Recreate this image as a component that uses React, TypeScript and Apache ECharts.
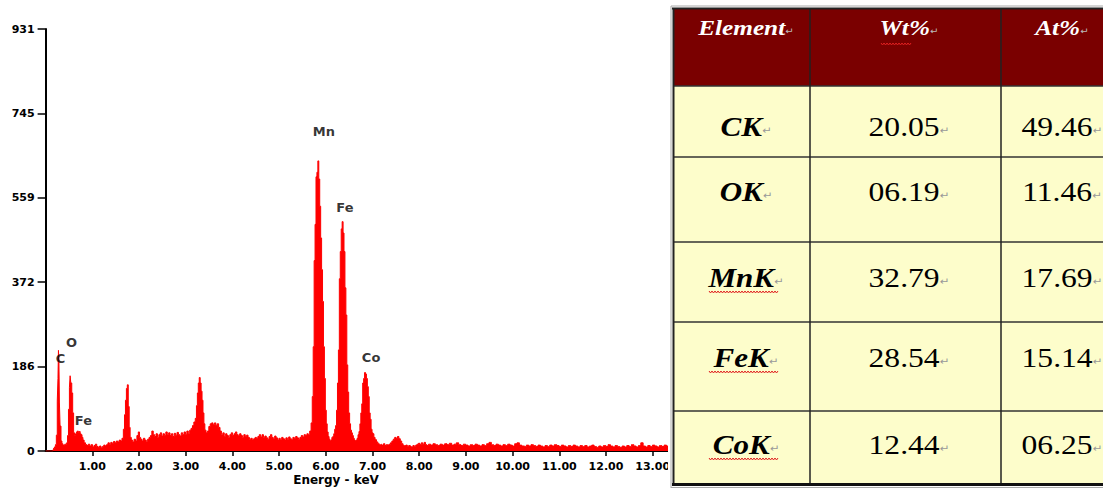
import React, { useEffect, useRef } from 'react';
import * as echarts from 'echarts';

// ---- spectrum data: [energy keV, counts] ----
const lightElementSpectrum: [number, number][] = [
  [0, 0], [0.16, 0], [0.18, 6], [0.2, 9], [0.22, 14], [0.24, 35], [0.26, 110], [0.27, 160], [0.28, 222], [0.29, 200],
  [0.3, 108], [0.32, 55], [0.34, 22], [0.36, 16], [0.38, 13], [0.4, 12], [0.42, 15], [0.44, 14], [0.46, 18], [0.48, 34],
  [0.5, 92], [0.52, 140], [0.53, 166], [0.55, 150], [0.57, 128], [0.59, 84], [0.61, 40], [0.63, 34], [0.65, 38], [0.67, 42],
  [0.69, 44], [0.71, 41], [0.73, 43], [0.75, 38], [0.77, 36], [0.79, 30], [0.81, 24], [0.84, 18], [0.87, 14], [0.9, 12],
  [0.93, 15], [0.96, 11], [0.99, 14], [1.02, 9], [1.05, 12], [1.08, 15], [1.11, 10], [1.14, 8], [1.17, 11], [1.2, 7],
  [1.23, 10], [1.26, 13], [1.29, 11], [1.32, 14], [1.35, 18], [1.38, 15], [1.41, 19], [1.44, 17], [1.47, 21], [1.5, 18],
  [1.53, 22], [1.56, 20], [1.59, 24], [1.62, 22], [1.65, 28], [1.68, 48], [1.7, 80], [1.72, 112], [1.74, 138], [1.76, 146],
  [1.78, 98], [1.8, 52], [1.82, 30], [1.85, 24], [1.88, 20], [1.91, 26], [1.94, 22], [1.97, 34], [2.0, 42], [2.02, 30],
];

const midEnergySpectrum: [number, number][] = [
  [2.05, 26], [2.08, 22], [2.11, 28], [2.14, 24], [2.17, 20], [2.2, 26], [2.23, 30], [2.26, 34], [2.29, 44], [2.32, 36],
  [2.35, 32], [2.38, 38], [2.41, 30], [2.44, 36], [2.47, 40], [2.5, 33], [2.53, 38], [2.56, 34], [2.59, 42], [2.62, 36],
  [2.65, 40], [2.68, 34], [2.71, 38], [2.74, 32], [2.77, 39], [2.8, 35], [2.83, 41], [2.86, 36], [2.89, 33], [2.92, 40],
  [2.95, 36], [2.98, 42], [3.01, 37], [3.04, 44], [3.07, 38], [3.1, 46], [3.13, 50], [3.16, 56], [3.19, 64], [3.22, 72],
  [3.24, 100], [3.26, 128], [3.28, 150], [3.3, 162], [3.32, 150], [3.34, 132], [3.36, 112], [3.38, 84], [3.4, 60], [3.42, 46],
  [3.45, 40], [3.48, 44], [3.51, 54], [3.54, 60], [3.57, 62], [3.6, 58], [3.63, 62], [3.66, 57], [3.69, 60], [3.72, 52],
  [3.75, 44], [3.78, 36], [3.81, 40], [3.84, 32], [3.87, 38], [3.9, 34], [3.93, 30], [3.96, 36], [3.99, 40], [4.02, 34],
  [4.05, 38], [4.08, 42], [4.11, 36], [4.14, 33], [4.17, 38], [4.2, 34], [4.23, 30], [4.26, 36], [4.29, 32], [4.32, 35],
  [4.35, 30], [4.38, 26], [4.41, 28], [4.44, 24], [4.47, 27], [4.5, 30], [4.53, 28], [4.56, 32], [4.59, 36], [4.62, 31],
  [4.65, 36], [4.68, 30], [4.71, 33], [4.74, 29], [4.77, 26], [4.8, 32], [4.83, 36], [4.86, 30], [4.89, 27], [4.92, 33],
  [4.95, 29], [4.98, 24], [5.01, 28], [5.04, 25], [5.07, 30], [5.1, 27], [5.13, 24], [5.16, 29], [5.19, 26], [5.22, 31],
  [5.25, 27], [5.28, 25], [5.31, 30], [5.34, 28], [5.37, 32], [5.4, 29], [5.43, 26], [5.46, 30], [5.49, 34], [5.52, 31],
  [5.55, 36], [5.58, 34],
];

const kLineSpectrum: [number, number][] = [
  [5.61, 38], [5.64, 36], [5.67, 44], [5.7, 62], [5.72, 120], [5.74, 230], [5.76, 420], [5.78, 500], [5.8, 605], [5.82, 615],
  [5.84, 640], [5.86, 600], [5.88, 540], [5.9, 470], [5.92, 400], [5.94, 330], [5.96, 230], [5.98, 160], [6.0, 90], [6.02, 60],
  [6.04, 42], [6.06, 32], [6.08, 26], [6.1, 22], [6.12, 24], [6.14, 30], [6.16, 32], [6.18, 38], [6.2, 48], [6.22, 56],
  [6.24, 90], [6.26, 150], [6.28, 223], [6.3, 380], [6.32, 440], [6.34, 490], [6.36, 506], [6.38, 481], [6.4, 440], [6.42, 360],
  [6.44, 300], [6.46, 190], [6.48, 130], [6.5, 84], [6.52, 60], [6.54, 46], [6.56, 40], [6.58, 34], [6.6, 28], [6.62, 24],
  [6.64, 22], [6.66, 24], [6.68, 28], [6.7, 36], [6.72, 43], [6.74, 60], [6.76, 84], [6.78, 104], [6.8, 150], [6.82, 160],
  [6.84, 173], [6.86, 170], [6.88, 160], [6.9, 142], [6.92, 120], [6.94, 84], [6.96, 70], [6.98, 48], [7.0, 40], [7.02, 38],
  [7.04, 30], [7.07, 25], [7.1, 20],
];

const highEnergySpectrum: [number, number][] = [
  [7.13, 16], [7.16, 14], [7.19, 15], [7.22, 13], [7.25, 16], [7.28, 12], [7.31, 14], [7.34, 13], [7.37, 15], [7.4, 18],
  [7.43, 22], [7.46, 26], [7.49, 30], [7.52, 28], [7.55, 32], [7.58, 27], [7.61, 22], [7.64, 16], [7.67, 12], [7.7, 11],
  [7.73, 13], [7.76, 10], [7.79, 12], [7.82, 11], [7.85, 9], [7.88, 12], [7.91, 10], [7.94, 13], [7.97, 15], [8.0, 17],
  [8.03, 14], [8.06, 18], [8.09, 15], [8.12, 19], [8.15, 14], [8.18, 12], [8.22, 15], [8.27, 13], [8.32, 16], [8.37, 14],
  [8.42, 12], [8.47, 15], [8.52, 13], [8.57, 16], [8.62, 14], [8.67, 17], [8.72, 13], [8.77, 15], [8.82, 18], [8.87, 14],
  [8.92, 12], [8.97, 15], [9.02, 13], [9.07, 11], [9.12, 14], [9.17, 12], [9.22, 15], [9.27, 13], [9.32, 11], [9.37, 14],
  [9.42, 12], [9.47, 16], [9.52, 19], [9.57, 14], [9.62, 12], [9.67, 15], [9.72, 13], [9.77, 11], [9.82, 14], [9.87, 12],
  [9.92, 15], [9.97, 13], [10.02, 11], [10.07, 16], [10.12, 18], [10.17, 13], [10.22, 11], [10.27, 10], [10.32, 13], [10.37, 11],
  [10.42, 14], [10.47, 12], [10.52, 10], [10.57, 13], [10.62, 11], [10.67, 9], [10.72, 12], [10.77, 10], [10.82, 13], [10.87, 11],
  [10.92, 14], [10.97, 12], [11.02, 10], [11.07, 13], [11.12, 11], [11.17, 9], [11.22, 12], [11.27, 10], [11.32, 13], [11.37, 11],
  [11.42, 9], [11.47, 12], [11.52, 10], [11.57, 12], [11.62, 9], [11.67, 11], [11.72, 13], [11.77, 10], [11.82, 8], [11.87, 11],
  [11.92, 9], [11.97, 12], [12.02, 10], [12.07, 14], [12.12, 11], [12.17, 9], [12.22, 12], [12.27, 10], [12.32, 8], [12.37, 11],
  [12.42, 9], [12.47, 12], [12.52, 10], [12.57, 14], [12.62, 11], [12.67, 9], [12.72, 12], [12.77, 18], [12.82, 11], [12.87, 9],
  [12.92, 12], [12.97, 10], [13.02, 13], [13.07, 11], [13.12, 9], [13.17, 12], [13.22, 10], [13.27, 13], [13.32, 11], [13.37, 9],
  [13.42, 12], [13.47, 10], [13.52, 12], [13.57, 10],
];

const yTickLabels = ['0', '186', '372', '559', '745', '931'];
const yMax = 931;

const peakLabels = [
  { name: 'C', energy: 0.32, counts: 204 },
  { name: 'O', energy: 0.555, counts: 239 },
  { name: 'Fe', energy: 0.81, counts: 68 },
  { name: 'Mn', energy: 5.96, counts: 704 },
  { name: 'Fe', energy: 6.41, counts: 538 },
  { name: 'Co', energy: 6.97, counts: 206 },
];

// ---- table data ----
const tableHeaders = ['Element', 'Wt%', 'At%'];
const tableElements = ['CK', 'OK', 'MnK', 'FeK', 'CoK'];
const wtPercent = ['20.05', '06.19', '32.79', '28.54', '12.44'];
const atPercent = ['49.46', '11.46', '17.69', '15.14', '06.25'];

const SANS = '"DejaVu Sans", Verdana, sans-serif';
const SERIF = '"Liberation Serif", "Times New Roman", serif';
const RET = '\u21B5';

function wavy(x1: number, x2: number, y: number): number[][] {
  const pts: number[][] = [];
  let k = 0;
  for (let x = x1; x <= x2; x += 1.5) {
    pts.push([x, y + (k % 2 === 0 ? -1 : 1)]);
    k++;
  }
  return pts;
}

function buildTable(): any[] {
  const g: any[] = [];
  const Z = 100;
  // cover
  g.push({ type: 'rect', z: Z, shape: { x: 668, y: 0, width: 435, height: 488 }, style: { fill: '#ffffff' } });
  // header & body fills
  g.push({ type: 'rect', z: Z + 1, shape: { x: 674, y: 9, width: 429, height: 77 }, style: { fill: '#7A0000' } });
  g.push({
    type: 'rect', z: Z + 1, shape: { x: 674, y: 86, width: 429, height: 397 },
    style: { fill: '#FDFDCB' },
  });
  // outer border
  g.push({ type: 'line', z: Z + 3, shape: { x1: 671, y1: 6, x2: 1103, y2: 6 }, style: { stroke: '#aaaaaa', lineWidth: 1 } });
  g.push({ type: 'line', z: Z + 3, shape: { x1: 672, y1: 8.5, x2: 1103, y2: 8.5 }, style: { stroke: '#222222', lineWidth: 2 } });
  g.push({ type: 'line', z: Z + 3, shape: { x1: 671, y1: 6, x2: 671, y2: 488 }, style: { stroke: '#aaaaaa', lineWidth: 1 } });
  g.push({ type: 'line', z: Z + 3, shape: { x1: 673.5, y1: 8, x2: 673.5, y2: 486 }, style: { stroke: '#222222', lineWidth: 2 } });
  g.push({ type: 'line', z: Z + 3, shape: { x1: 672, y1: 484.5, x2: 1103, y2: 484.5 }, style: { stroke: '#111111', lineWidth: 3 } });
  g.push({ type: 'line', z: Z + 3, shape: { x1: 671, y1: 487.5, x2: 1103, y2: 487.5 }, style: { stroke: '#aaaaaa', lineWidth: 1 } });
  // grid lines
  [86, 157, 242, 322, 411].forEach((y) => {
    g.push({ type: 'line', z: Z + 2, shape: { x1: 674, y1: y, x2: 1103, y2: y }, style: { stroke: '#333333', lineWidth: 1.5 } });
  });
  [810, 1001].forEach((x) => {
    g.push({ type: 'line', z: Z + 2, shape: { x1: x, y1: 9, x2: x, y2: 483 }, style: { stroke: '#222222', lineWidth: 1.5 } });
  });

  const colCenters = [746, 909, 1062];
  // headers
  tableHeaders.forEach((h, i) => {
    g.push({
      type: 'text', z: Z + 4, x: colCenters[i], y: 28, scaleX: 1.15,
      style: {
        text: `{h|${h}}{r|${RET}}`, align: 'center', verticalAlign: 'middle',
        rich: {
          h: { fontFamily: SERIF, fontSize: 22, fontWeight: 'bold', fontStyle: 'italic', fill: '#ffffff' },
          r: { fontFamily: '"DejaVu Sans"', fontSize: 9, fill: '#bbbbbb', padding: [6, 0, 0, 0] },
        },
      },
    });
  });
  g.push({ type: 'polyline', z: Z + 4, shape: { points: wavy(881, 912, 44) }, style: { stroke: '#e02020', lineWidth: 1, fill: 'none' } });

  const rowCenters = [127, 192, 278, 358, 445];
  tableElements.forEach((el, r) => {
    const y = rowCenters[r];
    g.push({
      type: 'text', z: Z + 4, x: colCenters[0], y, scaleX: 1.15,
      style: {
        text: `{b|${el}}{r|${RET}}`, align: 'center', verticalAlign: 'middle',
        rich: {
          b: { fontFamily: SERIF, fontSize: 27, fontWeight: 'bold', fontStyle: 'italic', fill: '#000000' },
          r: { fontFamily: '"DejaVu Sans"', fontSize: 10, fill: '#999999', padding: [8, 0, 0, 0] },
        },
      },
    });
    [wtPercent[r], atPercent[r]].forEach((v, c) => {
      g.push({
        type: 'text', z: Z + 4, x: colCenters[c + 1], y, scaleX: 1.17,
        style: {
          text: `{n|${v}}{r|${RET}}`, align: 'center', verticalAlign: 'middle',
          rich: {
            n: { fontFamily: SERIF, fontSize: 27, fill: '#000000' },
            r: { fontFamily: '"DejaVu Sans"', fontSize: 10, fill: '#999999', padding: [8, 0, 0, 0] },
          },
        },
      });
    });
    if (el.length > 2) {
      g.push({
        type: 'polyline', z: Z + 4, shape: { points: wavy(709, 778, y + 14) },
        style: { stroke: '#e02020', lineWidth: 1, fill: 'none' },
      });
    }
  });
  return g;
}

export default function App() {
  const ref = useRef<HTMLDivElement>(null);
  useEffect(() => {
    if (!ref.current) return;
    const chart = echarts.init(ref.current, null, { renderer: 'svg' });
    const spectrum = [...lightElementSpectrum, ...midEnergySpectrum, ...kLineSpectrum, ...highEnergySpectrum];
    const option: any = {
      animation: false,
      backgroundColor: '#ffffff',
      grid: { left: 45.6, top: 29, right: 403.6, bottom: 37, containLabel: false },
      xAxis: {
        type: 'value', min: 0, max: 14, interval: 1,
        axisLine: { lineStyle: { color: '#000', width: 2 } },
        axisTick: { show: true, length: 5, lineStyle: { color: '#000', width: 1.5 } },
        axisLabel: {
          showMinLabel: false, margin: 10, color: '#000', fontFamily: SANS, fontWeight: 'bold', fontSize: 11,
          formatter: (v: number) => v.toFixed(2),
        },
        splitLine: { show: false },
      },
      yAxis: {
        type: 'value', min: 0, max: yMax, interval: yMax / 5,
        axisLine: { show: true, lineStyle: { color: '#000', width: 2 } },
        axisTick: { show: true, length: 8, lineStyle: { color: '#000', width: 1.5 } },
        axisLabel: {
          margin: 11, color: '#000', fontFamily: SANS, fontWeight: 'bold', fontSize: 11,
          formatter: (_v: number, i: number) => yTickLabels[i] ?? '',
        },
        splitLine: { show: false },
      },
      series: [
        {
          type: 'line', data: spectrum, step: 'middle', showSymbol: false, symbol: 'none',
          lineStyle: { color: '#ff0000', width: 1 }, areaStyle: { color: '#ff0000', opacity: 1 },
          z: 2,
        },
        {
          type: 'scatter', symbolSize: 0, z: 5,
          data: peakLabels.map((p) => ({ value: [p.energy, p.counts], name: p.name })),
          label: {
            show: true, position: 'inside', formatter: (p: any) => p.name,
            color: '#000', fontFamily: SANS, fontWeight: 'bold', fontSize: 13,
          },
        },
      ],
      graphic: [
        {
          type: 'text', x: 336, y: 480,
          style: {
            text: 'Energy - keV', align: 'center', verticalAlign: 'middle',
            font: `bold 12px ${SANS}`, fill: '#000',
          },
        },
        ...buildTable(),
      ],
    };
    chart.setOption(option);
    return () => chart.dispose();
  }, []);
  return <div ref={ref} style={{ position: 'absolute', left: 0, top: 0, width: 1103, height: 488 }} />;
}
